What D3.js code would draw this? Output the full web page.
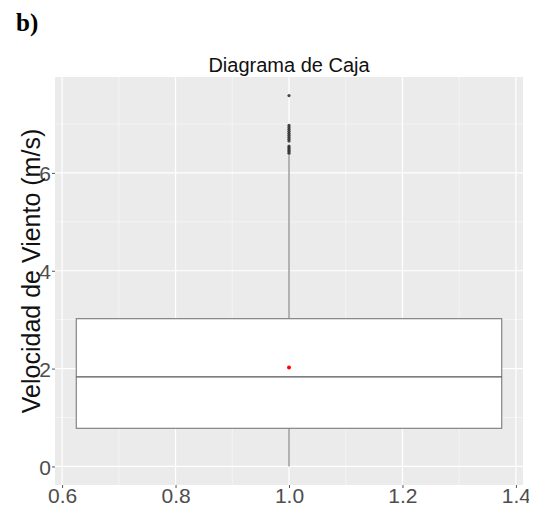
<!DOCTYPE html>
<html><head><meta charset="utf-8">
<script src="https://cdn.jsdelivr.net/npm/d3@7"></script>
<style>body{margin:0;background:#fff}</style>
</head><body>
<script>
// Data
const boxStats = {xmin: 0.625, xmax: 1.375, xc: 1.0, lower: 0, q1: 0.78, median: 1.83, q3: 3.02, upper: 6.36, mean: 2.02};
const outliers = [6.40, 6.43, 6.46, 6.49, 6.52, 6.55, 6.65, 6.69, 6.73, 6.77, 6.81, 6.85, 6.89, 6.93, 6.97, 7.58];
const xTicks = [0.6, 0.8, 1.0, 1.2, 1.4];
const xMinor = [0.7, 0.9, 1.1, 1.3];
const yTicks = [0, 2, 4, 6];
const yMinor = [1, 3, 5, 7];
const title = "Diagrama de Caja";
const yLabel = "Velocidad de Viento (m/s)";

const W = 540, H = 510;
const panel = {l: 55, r: 523, t: 77, b: 485};
const svg = d3.select("body").append("svg").attr("width", W).attr("height", H);

const x = d3.scaleLinear().domain([0.5875, 1.4125]).range([panel.l, panel.r]);
const y = d3.scaleLinear().domain([-0.379, 7.96]).range([panel.b, panel.t]);

svg.append("text").attr("x", 16).attr("y", 31).text("b)")
  .attr("font-family", "Liberation Serif, Times New Roman, serif").attr("font-weight", "bold").attr("font-size", 25);

svg.append("rect").attr("x", panel.l).attr("y", panel.t).attr("width", panel.r - panel.l).attr("height", panel.b - panel.t).attr("fill", "#EBEBEB");

const g = svg.append("g");
g.selectAll(".xmin").data(xMinor).enter().append("line")
  .attr("x1", d => x(d)).attr("x2", d => x(d)).attr("y1", panel.t).attr("y2", panel.b)
  .attr("stroke", "#fff").attr("stroke-width", 0.6).attr("stroke-opacity", 0.8);
g.selectAll(".ymin").data(yMinor).enter().append("line")
  .attr("y1", d => y(d)).attr("y2", d => y(d)).attr("x1", panel.l).attr("x2", panel.r)
  .attr("stroke", "#fff").attr("stroke-width", 0.6).attr("stroke-opacity", 0.8);
g.selectAll(".xmaj").data(xTicks).enter().append("line")
  .attr("x1", d => x(d)).attr("x2", d => x(d)).attr("y1", panel.t).attr("y2", panel.b)
  .attr("stroke", "#fff").attr("stroke-width", 1.2);
g.selectAll(".ymaj").data(yTicks).enter().append("line")
  .attr("y1", d => y(d)).attr("y2", d => y(d)).attr("x1", panel.l).attr("x2", panel.r)
  .attr("stroke", "#fff").attr("stroke-width", 1.2);

// axes
const xAxis = svg.append("g").attr("transform", `translate(0,${panel.b})`)
  .call(d3.axisBottom(x).tickValues(xTicks).tickSize(3).tickPadding(0).tickFormat(d3.format(".1f")));
const yAxis = svg.append("g").attr("transform", `translate(${panel.l},0)`)
  .call(d3.axisLeft(y).tickValues(yTicks).tickSize(3).tickPadding(1).tickFormat(d3.format("d")));
[xAxis, yAxis].forEach(a => {
  a.select(".domain").remove();
  a.selectAll(".tick line").attr("stroke", "#555").attr("stroke-width", 1);
  a.selectAll(".tick text").attr("fill", "#4D4D4D").attr("font-family", "Liberation Sans, Arial, sans-serif").attr("font-size", 21);
});
yAxis.selectAll(".tick text").attr("dy", "0.36em");

// box
const cx = x(boxStats.xc);
svg.append("line").attr("x1", cx).attr("x2", cx).attr("y1", y(boxStats.q3)).attr("y2", y(boxStats.upper))
  .attr("stroke", "#7a7a7a").attr("stroke-width", 1.1);
svg.append("line").attr("x1", cx).attr("x2", cx).attr("y1", y(boxStats.q1)).attr("y2", y(boxStats.lower))
  .attr("stroke", "#7a7a7a").attr("stroke-width", 1.1);
svg.append("rect").attr("x", x(boxStats.xmin)).attr("y", y(boxStats.q3))
  .attr("width", x(boxStats.xmax) - x(boxStats.xmin)).attr("height", y(boxStats.q1) - y(boxStats.q3))
  .attr("fill", "#fff").attr("stroke", "#7a7a7a").attr("stroke-width", 1.1);
svg.append("line").attr("x1", x(boxStats.xmin)).attr("x2", x(boxStats.xmax)).attr("y1", y(boxStats.median)).attr("y2", y(boxStats.median))
  .attr("stroke", "#555").attr("stroke-width", 1.3);

svg.selectAll(".out").data(outliers).enter().append("circle")
  .attr("cx", cx).attr("cy", d => y(d)).attr("r", 1.6).attr("fill", "#333").attr("fill-opacity", 0.9);

svg.append("circle").attr("cx", cx).attr("cy", y(boxStats.mean)).attr("r", 2).attr("fill", "#FF0000");

svg.append("text").attr("x", (panel.l + panel.r) / 2).attr("y", 72).attr("text-anchor", "middle")
  .attr("font-family", "Liberation Sans, Arial, sans-serif").attr("font-size", 20).attr("fill", "#111").text(title);

svg.append("text").attr("transform", `translate(40,${(panel.t + panel.b) / 2 - 10}) rotate(-90)`)
  .attr("text-anchor", "middle").attr("font-family", "Liberation Sans, Arial, sans-serif").attr("font-size", 25).attr("fill", "#111").text(yLabel);

// the source figure is cropped on the right edge
svg.append("rect").attr("x", 529).attr("y", 0).attr("width", 11).attr("height", H).attr("fill", "#fff");
</script>
</body></html>
